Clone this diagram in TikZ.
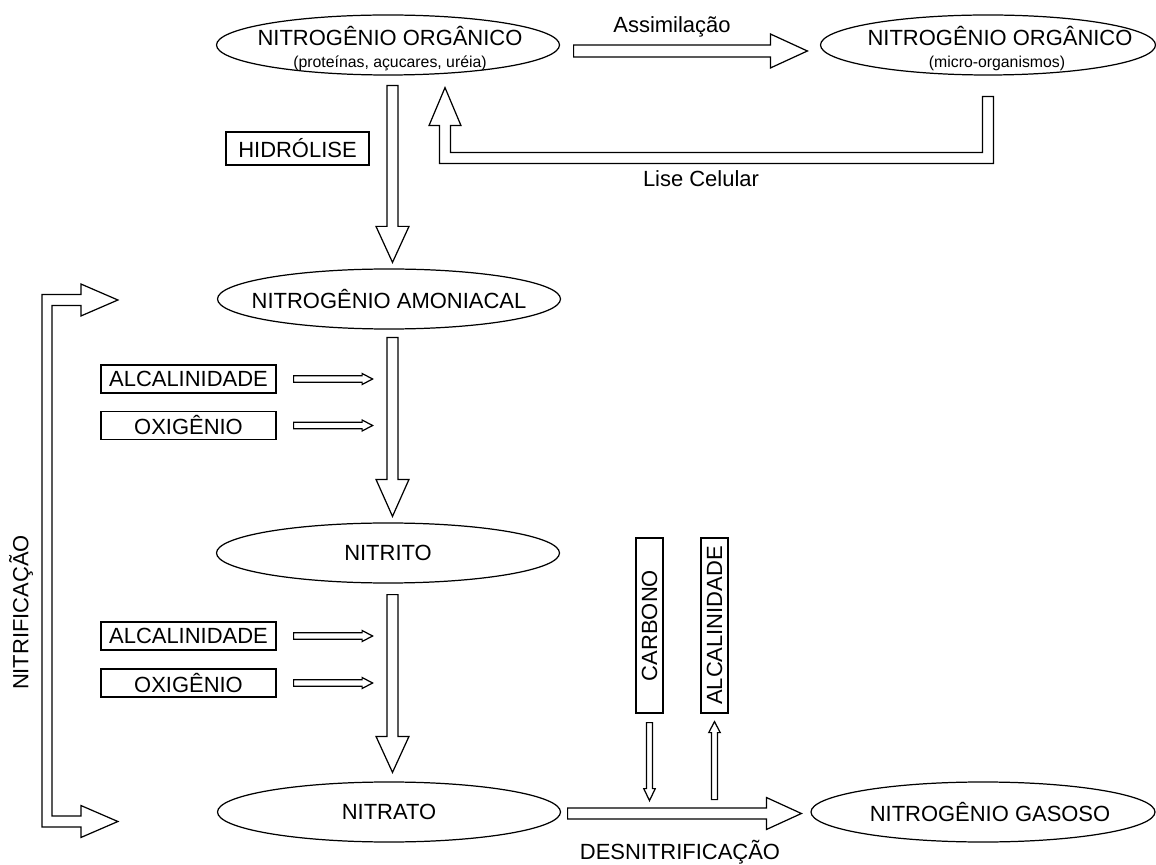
\documentclass[tikz,border=0pt]{standalone}
\usepackage{fontspec}
\setmainfont{Liberation Sans}
\usetikzlibrary{shapes.geometric,calc}

\tikzset{
  stage/.style={draw, ellipse, minimum width=6.86cm, minimum height=1.2cm, inner sep=0pt},
  factor/.style={draw, rectangle, inner sep=0pt, minimum width=3.5cm, minimum height=0.56cm},
  small/.style={font=\fontsize{9}{11}\selectfont}
}

% block arrow: from, to, shaft half width, head half width, head length
\newcommand{\fatarrow}[5]{%
  \draw let \p1=(#1), \p2=(#2), \n1={atan2(\y2-\y1,\x2-\x1)}, \n2={veclen(\x2-\x1,\y2-\y1)} in
    [shift={(\p1)}, rotate=\n1]
    (0pt,-#3) -- (\n2-#5,-#3) -- (\n2-#5,-#4) -- (\n2+0pt,0pt) -- (\n2-#5,#4) -- (\n2-#5,#3) -- (0pt,#3) -- cycle;
}

\begin{document}
\begin{tikzpicture}[y=-1cm, line width=0.7pt, font=\fontsize{12.5}{15}\selectfont]
  \useasboundingbox (0,0) rectangle (23.12,17.3);

  %%%%%%%%%%%%%The nitrogen forms%%%%%%%%%%%%%%%%%%%%%%
  \node[stage] (org) at (7.76,0.9) {};
  \node (org-a) at (7.8,0.72) {NITROGÊNIO ORGÂNICO};
  \node[small] (org-b) at (7.8,1.26) {(proteínas, açucares, uréia)};

  \node[stage, minimum width=6.7cm] (micro) at (19.76,0.9) {};
  \node (micro-a) at (20.0,0.72) {NITROGÊNIO ORGÂNICO};
  \node[small] (micro-b) at (19.94,1.26) {(micro-organismos)};

  \node[stage] (amon) at (7.78,5.98) {};
  \node (amon-a) at (amon) {NITROGÊNIO AMONIACAL};

  \node[stage] (nitrito) at (7.76,11.06) {};
  \node (nitrito-a) at (nitrito) {NITRITO};

  \node[stage] (nitrato) at (7.78,16.24) {};
  \node (nitrato-a) at (nitrato) {NITRATO};

  \node[stage, minimum width=6.88cm] (gasoso) at (19.66,16.24) {};
  \node (gasoso-a) at (19.8,16.24) {NITROGÊNIO GASOSO};

  %%%%%%%%%%%%%The boxes%%%%%%%%%%%%%%%%%%%%%%
  \node[factor, minimum width=2.86cm, minimum height=0.66cm] (hidro) at (5.95,2.97) {HIDRÓLISE};
  \node[factor] (alc1) at (3.77,7.58) {ALCALINIDADE};
  \node[factor] (oxi1) at (3.77,8.51) {OXIGÊNIO};
  \node[factor] (alc2) at (3.77,12.72) {ALCALINIDADE};
  \node[factor] (oxi2) at (3.77,13.66) {OXIGÊNIO};
  \node[factor, minimum width=0.54cm, minimum height=3.5cm] (carb) at (12.99,12.51) {\rotatebox{90}{CARBONO}};
  \node[factor, minimum width=0.54cm, minimum height=3.5cm] (alcv) at (14.29,12.51) {\rotatebox{90}{ALCALINIDADE}};

  %%%%%%%%%%%%%The labels%%%%%%%%%%%%%%%%%%%%%%
  \node (assim) at (13.44,0.54) {Assimilação};
  \node (lise) at (14.02,3.58) {Lise Celular};
  \node[rotate=90] (nitrif) at (0.42,12.25) {NITRIFICAÇÃO};
  \node (desnit) at (13.6,17.04) {DESNITRIFICAÇÃO};

  %%%%%%%%%%%%%The big arrows%%%%%%%%%%%%%%%%%%%%%%
  \fatarrow{$(org.east)+(0.27,0.12)$}{$(micro.west)+(-0.25,0.12)$}{0.12cm}{0.34cm}{0.74cm}
  \fatarrow{$(org.south)+(0.09,0.2)$}{$(amon.north)+(0.07,-0.12)$}{0.11cm}{0.33cm}{0.72cm}
  \fatarrow{$(amon.south)+(0.07,0.16)$}{$(nitrito.north)+(0.09,-0.12)$}{0.11cm}{0.33cm}{0.74cm}
  \fatarrow{$(nitrito.south)+(0.09,0.22)$}{$(nitrato.north)+(0.07,-0.18)$}{0.11cm}{0.33cm}{0.72cm}
  \fatarrow{$(nitrato.east)+(0.13,0.03)$}{$(gasoso.west)+(-0.18,0.03)$}{0.11cm}{0.32cm}{0.7cm}

  %%%%%%%%%%%%%Lise celular%%%%%%%%%%%%%%%%%%%%%%
  \coordinate (lA) at ($(micro.south)+(0,0.42)$);
  \coordinate (lB) at ($(org.south)+(1.14,0.24)$);
  \draw let \p1=(lA), \p2=(lB) in
    (\x1+0.11cm,\y1) -- (\x1+0.11cm,\y1-1.34cm) -- (\x2-0.11cm,\y1-1.34cm) -- (\x2-0.11cm,\y2-0.76cm)
    -- (\x2-0.32cm,\y2-0.76cm) -- (\p2) -- (\x2+0.32cm,\y2-0.76cm) -- (\x2+0.11cm,\y2-0.76cm)
    -- (\x2+0.11cm,\y1-1.12cm) -- (\x1-0.11cm,\y1-1.12cm) -- (\x1-0.11cm,\y1) -- cycle;

  %%%%%%%%%%%%%Nitrificacao%%%%%%%%%%%%%%%%%%%%%%
  \coordinate (ntop) at ($(amon.west)+(-1.98,0.02)$);
  \coordinate (nbot) at ($(nitrato.west)+(-1.98,0.19)$);
  \draw let \p1=(ntop), \p2=(nbot) in
    (\p1) -- (\x1-0.74cm,\y1-0.32cm) -- (\x1-0.74cm,\y1-0.11cm) -- (\x1-1.32cm,\y1-0.11cm)
    -- (\x1-1.32cm,\y2+0.11cm) -- (\x2-0.74cm,\y2+0.11cm) -- (\x2-0.74cm,\y2+0.32cm) -- (\p2)
    -- (\x2-0.74cm,\y2-0.32cm) -- (\x2-0.74cm,\y2-0.11cm) -- (\x2-1.52cm,\y2-0.11cm)
    -- (\x2-1.52cm,\y1+0.11cm) -- (\x1-0.74cm,\y1+0.11cm) -- (\x1-0.74cm,\y1+0.32cm) -- cycle;

  %%%%%%%%%%%%%The small arrows%%%%%%%%%%%%%%%%%%%%%%
  \fatarrow{$(alc1.east)+(0.34,0)$}{$(alc1.east)+(1.92,0)$}{0.065cm}{0.11cm}{0.21cm}
  \fatarrow{$(oxi1.east)+(0.34,0)$}{$(oxi1.east)+(1.92,0)$}{0.065cm}{0.11cm}{0.21cm}
  \fatarrow{$(alc2.east)+(0.34,0)$}{$(alc2.east)+(1.92,0)$}{0.065cm}{0.11cm}{0.21cm}
  \fatarrow{$(oxi2.east)+(0.34,0)$}{$(oxi2.east)+(1.92,0)$}{0.065cm}{0.11cm}{0.21cm}
  \fatarrow{$(carb.south)+(0,0.18)$}{$(carb.south)+(0,1.74)$}{0.06cm}{0.115cm}{0.24cm}
  \fatarrow{$(alcv.south)+(0,1.72)$}{$(alcv.south)+(0,0.16)$}{0.06cm}{0.115cm}{0.22cm}
\end{tikzpicture}
\end{document}
